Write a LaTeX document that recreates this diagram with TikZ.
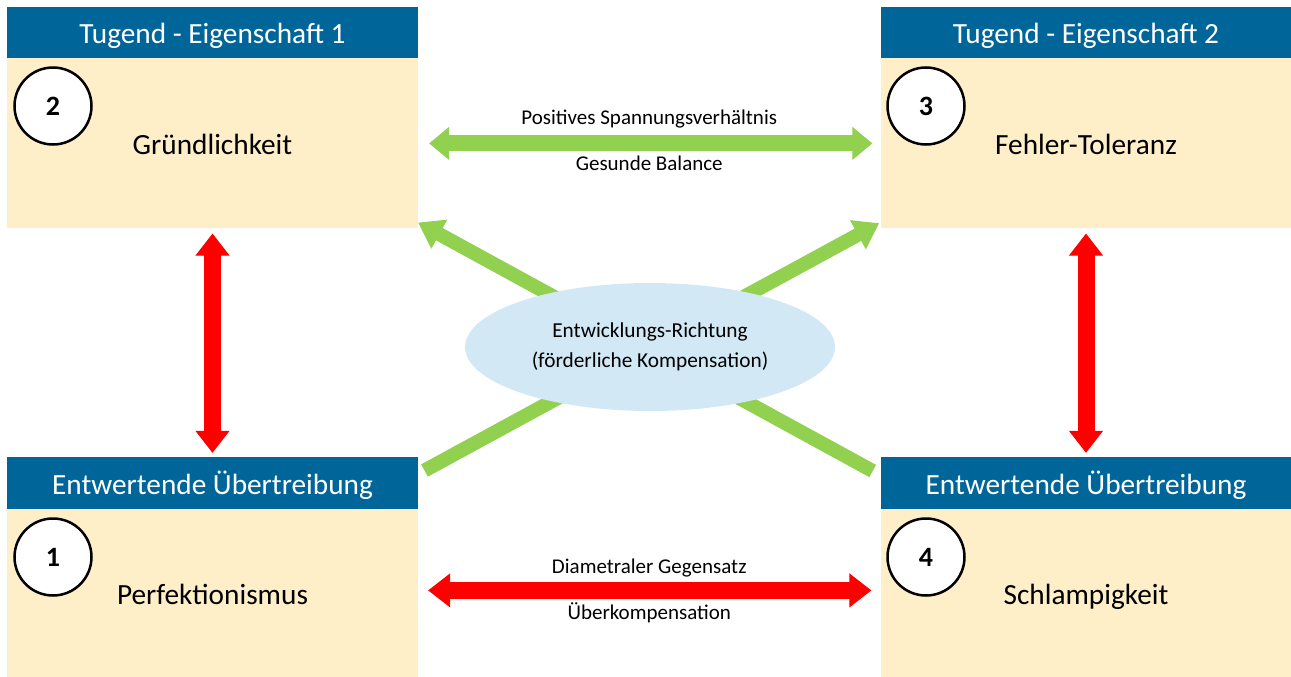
\documentclass[tikz,border=0pt]{standalone}
\usepackage{fontspec}
\setmainfont{Carlito}
\usepackage{xcolor}
\usepackage{tikz}
\usetikzlibrary{arrows.meta,positioning,shapes.geometric}

\definecolor{headblue}{RGB}{0,102,153}
\definecolor{bodybeige}{RGB}{255,239,201}
\definecolor{arrowgreen}{RGB}{146,208,80}
\definecolor{ellipseblue}{RGB}{210,233,245}

\begin{document}
\begin{tikzpicture}[
    x=1pt, y=-1pt,
    head/.style={rectangle, fill=headblue, text=white, minimum width=411pt, minimum height=51pt, inner sep=0pt, text height=22pt, text depth=0pt, font=\fontsize{29.3}{34}\selectfont},
    body/.style={rectangle, fill=bodybeige, minimum width=411pt, inner sep=0pt, text height=22pt, text depth=0pt, font=\fontsize{29.3}{34}\selectfont},
    num/.style={circle, draw, line width=2.5pt, fill=white, minimum size=77pt, inner sep=0pt, font=\fontsize{28}{32}\selectfont\bfseries},
    goal/.style={ellipse, fill=ellipseblue, minimum width=370pt, minimum height=128pt, inner sep=0pt, align=center, font=\fontsize{21.3}{30}\selectfont},
    lbl/.style={font=\fontsize{21}{25}\selectfont, inner sep=3pt},
    greenarrow/.style={draw=arrowgreen, line width=16pt, {Triangle[width=33pt,length=20pt,line width=1pt]}-{Triangle[width=33pt,length=20pt,line width=1pt]}},
    diagarrow/.style={draw=arrowgreen, line width=14pt, -{Triangle[width=33pt,length=24pt,line width=1pt]}},
    redarrow/.style={draw=red, line width=17pt, {Triangle[width=34pt,length=22pt,line width=1pt]}-{Triangle[width=34pt,length=22pt,line width=1pt]}}
]
    \useasboundingbox (0,0) rectangle (1291,677);

    % Virtues
    \node[head] (h1) at (212.5,32.5) {Tugend - Eigenschaft 1};
    \node[body, minimum height=170pt, below=0pt of h1] (b1) {Gründlichkeit};
    \node[head] (h2) at (1086,32.5) {Tugend - Eigenschaft 2};
    \node[body, minimum height=170pt, below=0pt of h2] (b2) {Fehler-Toleranz};

    % Exaggerations
    \node[head, minimum height=52pt] (h3) at (212.5,483) {Entwertende Übertreibung};
    \node[body, minimum height=168pt, below=0pt of h3] (b3) {Perfektionismus};
    \node[head, minimum height=52pt] (h4) at (1086,483) {Entwertende Übertreibung};
    \node[body, minimum height=168pt, below=0pt of h4] (b4) {Schlampigkeit};

    % Numbers
    \node[num] (n2) at (53,106) {2};
    \node[num] (n3) at (926,106) {3};
    \node[num] (n1) at (53,557) {1};
    \node[num] (n4) at (926,557) {4};

    % Development direction
    \coordinate (dl) at (424.5,470.5);
    \coordinate (dr) at (872.7,471);
    \coordinate (ul) at (418.3,222.7);
    \coordinate (ur) at (879,223.3);
    \draw[diagarrow] (dl) -- (ur);
    \draw[diagarrow] (dr) -- (ul);
    \node[goal] (dev) at (650,347) {Entwicklungs-Richtung\\(förderliche Kompensation)};

    % Connections
    \draw[greenarrow, shorten <=11pt, shorten >=8pt] (b1.east) -- (b2.west)
        node[lbl, midway, above=4pt] (pos) {Positives Spannungsverhältnis}
        node[lbl, midway, below=2pt] (bal) {Gesunde Balance};
    \draw[redarrow, shorten <=10pt, shorten >=9pt] ([yshift=3pt]b3.east) -- ([yshift=3pt]b4.west)
        node[lbl, midway, above=2pt] (dia) {Diametraler Gegensatz}
        node[lbl, midway, below=1pt] (ueb) {Überkompensation};
    \draw[redarrow, shorten <=5pt, shorten >=4pt] (b1.south) -- (h3.north);
    \draw[redarrow, shorten <=5pt, shorten >=4pt] (b2.south) -- (h4.north);
\end{tikzpicture}
\end{document}
